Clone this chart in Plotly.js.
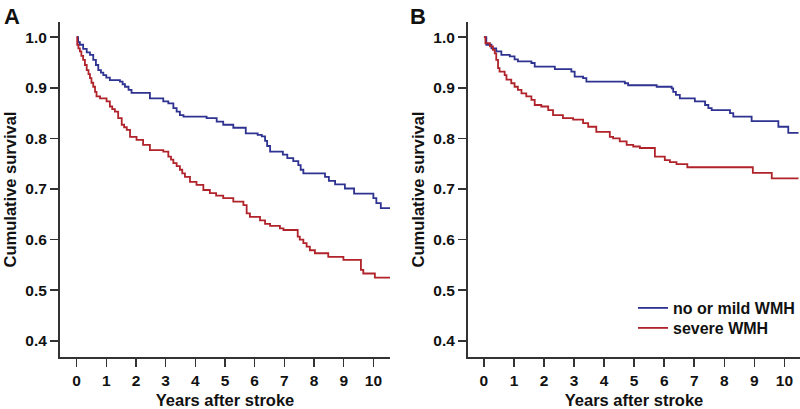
<!DOCTYPE html>
<html>
<head>
<meta charset="utf-8">
<script src="https://cdn.plot.ly/plotly-3.0.1.min.js"></script>
<style>html,body{margin:0;padding:0;background:#fff;}#chart{width:800px;height:409px;}</style>
</head>
<body>
<div id="chart"></div>
<script>
// Panel A (left)
const aMildYears = [0, 0.05, 0.11, 0.22, 0.34, 0.45, 0.56, 0.65, 0.73, 0.82, 0.9, 1.0, 1.12, 1.46, 1.55, 1.63, 1.75, 1.85, 2.47, 2.92, 3.09, 3.26, 3.37, 3.48, 3.6, 4.16, 4.38, 4.72, 4.94, 5.28, 5.7, 6.1, 6.24, 6.35, 6.42, 6.52, 6.95, 7.1, 7.3, 7.47, 7.55, 7.64, 8.37, 8.5, 8.71, 9.04, 9.35, 10.0, 10.1, 10.25, 10.56];
const aMildSurv  = [1.0, 0.99, 0.985, 0.977, 0.97, 0.965, 0.955, 0.945, 0.935, 0.93, 0.925, 0.92, 0.915, 0.912, 0.907, 0.902, 0.896, 0.89, 0.879, 0.873, 0.869, 0.86, 0.853, 0.846, 0.843, 0.843, 0.84, 0.833, 0.827, 0.821, 0.81, 0.807, 0.804, 0.795, 0.785, 0.774, 0.768, 0.761, 0.755, 0.747, 0.738, 0.731, 0.724, 0.716, 0.709, 0.701, 0.691, 0.682, 0.672, 0.662, 0.662];
const aSevYears = [0, 0.02, 0.06, 0.11, 0.16, 0.22, 0.28, 0.34, 0.4, 0.45, 0.5, 0.56, 0.62, 0.67, 0.79, 1.01, 1.12, 1.2, 1.29, 1.4, 1.52, 1.6, 1.69, 1.8, 2.02, 2.24, 2.47, 2.92, 3.09, 3.18, 3.26, 3.37, 3.48, 3.56, 3.65, 3.82, 4.04, 4.27, 4.49, 4.7, 4.94, 5.28, 5.62, 5.73, 5.84, 6.18, 6.35, 6.52, 6.85, 6.97, 7.45, 7.52, 7.64, 7.75, 7.86, 8.03, 8.48, 8.99, 9.58, 9.66, 10.05, 10.56];
const aSevSurv  = [1.0, 0.985, 0.978, 0.972, 0.963, 0.955, 0.945, 0.935, 0.927, 0.919, 0.91, 0.902, 0.892, 0.883, 0.879, 0.873, 0.863, 0.858, 0.853, 0.84, 0.827, 0.822, 0.817, 0.803, 0.797, 0.787, 0.777, 0.774, 0.764, 0.758, 0.751, 0.745, 0.738, 0.731, 0.724, 0.714, 0.708, 0.698, 0.692, 0.687, 0.682, 0.675, 0.668, 0.652, 0.645, 0.638, 0.631, 0.627, 0.622, 0.619, 0.606, 0.6, 0.593, 0.586, 0.579, 0.573, 0.566, 0.56, 0.54, 0.533, 0.525, 0.525];

// Panel B (right)
const bMildYears = [0, 0.08, 0.25, 0.41, 0.58, 0.86, 1.02, 1.13, 1.58, 1.69, 2.36, 2.91, 3.02, 3.3, 3.41, 4.69, 4.8, 5.75, 6.25, 6.3, 6.39, 6.52, 7.02, 7.36, 7.47, 7.58, 8.19, 8.3, 8.91, 9.8, 10.13, 10.47];
const bMildSurv  = [1.0, 0.985, 0.978, 0.972, 0.965, 0.962, 0.956, 0.952, 0.949, 0.942, 0.937, 0.932, 0.922, 0.919, 0.912, 0.909, 0.905, 0.902, 0.899, 0.892, 0.886, 0.879, 0.873, 0.866, 0.86, 0.856, 0.85, 0.843, 0.834, 0.823, 0.811, 0.811];
const bSevYears = [0, 0.05, 0.2, 0.3, 0.36, 0.41, 0.47, 0.52, 0.69, 0.75, 0.91, 1.02, 1.13, 1.25, 1.41, 1.58, 1.69, 1.91, 2.14, 2.3, 2.63, 2.97, 3.3, 3.47, 3.74, 4.19, 4.3, 4.52, 4.75, 4.97, 5.19, 5.69, 6.02, 6.19, 6.41, 6.77, 8.95, 9.58, 10.47];
const bSevSurv  = [1.0, 0.988, 0.982, 0.975, 0.968, 0.955, 0.939, 0.932, 0.925, 0.916, 0.909, 0.902, 0.896, 0.889, 0.883, 0.876, 0.866, 0.863, 0.856, 0.846, 0.84, 0.837, 0.83, 0.823, 0.813, 0.803, 0.8, 0.794, 0.787, 0.784, 0.781, 0.764, 0.757, 0.753, 0.749, 0.743, 0.732, 0.721, 0.721];

const xTicks = [0, 1, 2, 3, 4, 5, 6, 7, 8, 9, 10];
const yTicks = [0.4, 0.5, 0.6, 0.7, 0.8, 0.9, 1.0];
const seriesNames = ['no or mild WMH', 'severe WMH'];
const panelLabels = ['A', 'B'];
const xTitle = 'Years after stroke';
const yTitle = 'Cumulative survival';

const BLUE = '#2e3290';
const RED = '#b0232a';
const FONT = 'Arial, "Liberation Sans", sans-serif';

function tr(x, y, name, color, xa, ya, show, leg) {
  return {x: x, y: y, name: name, type: 'scatter', mode: 'lines',
    line: {shape: 'hv', color: color, width: 1.8},
    xaxis: xa, yaxis: ya, showlegend: show, legend: leg || 'legend', hoverinfo: 'skip'};
}

const data = [
  tr(aMildYears, aMildSurv, seriesNames[0], BLUE, 'x', 'y', false),
  tr(aSevYears, aSevSurv, seriesNames[1], RED, 'x', 'y', false),
  tr(bMildYears, bMildSurv, seriesNames[0], BLUE, 'x2', 'y2', true, 'legend'),
  tr(bSevYears, bSevSurv, seriesNames[1], RED, 'x2', 'y2', true, 'legend2')
];

function xax(domain, range, anchor) {
  return {domain: domain, range: range, anchor: anchor,
    tickmode: 'array', tickvals: xTicks, ticktext: xTicks.map(String),
    ticks: 'outside', ticklen: 8, tickwidth: 1.5, tickcolor: '#333',
    showline: true, linewidth: 2, linecolor: '#333',
    showgrid: false, zeroline: false,
    tickfont: {family: FONT, size: 15.5, color: '#111', weight: 'bold'},
    title: {text: xTitle, standoff: 7, font: {family: FONT, size: 16.5, color: '#111', weight: 'bold'}}};
}
function yax(domain, anchor) {
  return {domain: domain, range: [0.368, 1.03], anchor: anchor,
    tickmode: 'array', tickvals: yTicks, ticktext: yTicks.map(v => v.toFixed(1)),
    ticks: 'outside', ticklen: 8, tickwidth: 1.5, tickcolor: '#333',
    showline: true, linewidth: 2, linecolor: '#333',
    showgrid: false, zeroline: false,
    tickfont: {family: FONT, size: 15.5, color: '#111', weight: 'bold'},
    title: {text: yTitle, standoff: 5, font: {family: FONT, size: 16.5, color: '#111', weight: 'bold'}}};
}

const legFont = {family: FONT, size: 16, color: '#111', weight: 'bold'};
const yDom = [1 - 357 / 409, 1 - 22 / 409];
const layout = {
  width: 800, height: 409,
  margin: {l: 0, r: 0, t: 0, b: 0},
  paper_bgcolor: '#fff', plot_bgcolor: '#fff',
  font: {family: FONT, color: '#111'},
  xaxis: xax([60 / 800, 390 / 800], [-0.56, 10.56], 'y'),
  yaxis: yax(yDom, 'x'),
  xaxis2: xax([468 / 800, 1.0], [-0.53, 10.52], 'y2'),
  yaxis2: yax(yDom, 'x2'),
  showlegend: true,
  legend: {x: 633 / 800, y: 1 - 291 / 409, xanchor: 'left', yanchor: 'top',
    bgcolor: 'rgba(0,0,0,0)', borderwidth: 0, font: legFont},
  legend2: {x: 633 / 800, y: 1 - 311 / 409, xanchor: 'left', yanchor: 'top',
    bgcolor: 'rgba(0,0,0,0)', borderwidth: 0, font: legFont},
  annotations: [
    {text: panelLabels[0], xref: 'paper', yref: 'paper', x: 2 / 800, y: 1 - 2 / 409, xanchor: 'left', yanchor: 'top', showarrow: false,
      font: {family: FONT, size: 22, color: '#111', weight: 'bold'}},
    {text: panelLabels[1], xref: 'paper', yref: 'paper', x: 408 / 800, y: 1 - 2 / 409, xanchor: 'left', yanchor: 'top', showarrow: false,
      font: {family: FONT, size: 22, color: '#111', weight: 'bold'}}
  ]
};

Plotly.newPlot('chart', data, layout, {displayModeBar: false, staticPlot: true});
</script>
</body>
</html>
